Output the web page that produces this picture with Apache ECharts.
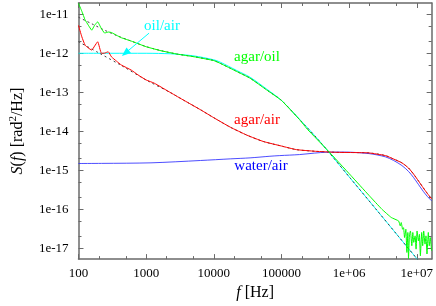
<!DOCTYPE html>
<html><head><meta charset="utf-8">
<script src="https://cdn.jsdelivr.net/npm/echarts@6/dist/echarts.min.js"></script>
<style>html,body{margin:0;padding:0;background:#fff}#c{width:436px;height:306px}</style>
</head><body><div id="c"></div>
<script>
// ---- tick labels ----
const xTickValues = [100, 1e3, 1e4, 1e5, 1e6, 1e7];
const xTickLabels = ['100', '1000', '10000', '100000', '1e+06', '1e+07'];
const xMinorValues = [200, 500, 2e3, 5e3, 2e4, 5e4, 2e5, 5e5, 2e6, 5e6];
const yTickValues = [1e-17, 1e-16, 1e-15, 1e-14, 1e-13, 1e-12, 1e-11];
const yTickLabels = ['1e-17', '1e-16', '1e-15', '1e-14', '1e-13', '1e-12', '1e-11'];
const yMinorValues = [2e-17, 5e-17, 2e-16, 5e-16, 2e-15, 5e-15, 2e-14, 5e-14, 2e-13, 5e-13, 2e-12, 5e-12];
const xRange = [100, 1.66e7];
const yRange = [5.33e-18, 1.94e-11];

// ---- series data: [f (Hz), S (rad^2/Hz)] ----
const agarOil = [[100,1.9e-11],[112,1.19e-11],[125,7.2e-12],[140,5.2e-12],[157,3.9e-12],[173,5.2e-12],[192,6.4e-12],[216,4.4e-12],[243,3.3e-12],[278,3.5e-12],
 [307,3.4e-12],[364,2.9e-12],[430,2.5e-12],[603,2.05e-12],[1000,1.47e-12],[1656,1.16e-12],[2904,9.5e-13],[5094,8.15e-13],[1e4,6.5e-13],[12500,5.5e-13],
 [21960,3.4e-13],[34360,2.3e-13],[60400,1.15e-13],[1e5,6.2e-14],[1.85e5,2.0e-14],[2.45e5,1.1e-14],[4.71e5,3.4e-15],[1.06e6,7.4e-16],[1.96e6,2.3e-16],[3.07e6,1.0e-16],
 [4.2e6,6.2e-17],[5.39e6,5.06e-17],[5.70e6,3.78e-17],[5.90e6,4.6e-17],[6.17e6,3.1e-17],[6.38e6,3.4e-17],[6.6e6,1.9e-17],[6.9e6,3.1e-17],[7.14e6,7.9e-18],[7.38e6,2.56e-17],
 [7.55e6,5.5e-18],[7.8e6,2.3e-17],[8.07e6,2.8e-17],[8.45e6,1.17e-17],[8.74e6,2.56e-17],[9.03e6,1.43e-17],[9.45e6,2.1e-17],[9.77e6,9.6e-18],[1.01e7,2.8e-17],[1.057e7,1.56e-17],
 [1.094e7,2.3e-17],[1.131e7,6.5e-18],[1.183e7,2.56e-17],[1.224e7,1.17e-17],[1.266e7,2.8e-17],[1.324e7,1.29e-17],[1.369e7,2.1e-17],[1.416e7,7.2e-18],[1.481e7,2.56e-17],[1.532e7,1.17e-17],
 [1.585e7,1.9e-17],[1.656e7,8.7e-18]];
const agarAir = [[100,5.2e-12],[112,2.64e-12],[125,1.62e-12],[140,1.36e-12],[157,1.21e-12],[173,1.53e-12],[192,1.97e-12],[219,9.95e-13],[243,1.01e-12],[275,1.09e-12],
 [307,8.1e-13],[364,6.3e-13],[430,5.0e-13],[603,3.7e-13],[756,2.8e-13],[1000,2.07e-13],[1321,1.71e-13],[2317,9.7e-14],[3630,6.2e-14],[6376,3.56e-14],
 [1e4,2.23e-14],[17500,1.28e-14],[30760,8.0e-15],[53800,5.5e-15],[1e5,4.2e-15],[1.66e5,3.4e-15],[3.18e5,3.08e-15],[6.38e5,2.9e-15],[1.18e6,2.86e-15],[1.96e6,2.8e-15],
 [3.44e6,2.39e-15],[4.55e6,1.95e-15],[6.03e6,1.56e-15],[7.55e6,1.15e-15],[8.94e6,8.1e-16],[1.057e7,5.4e-16],[1.25e7,3.55e-16],[1.43e7,2.58e-16],[1.656e7,1.86e-16]];
const waterAir = [[100,1.5e-15],[219,1.51e-15],[1180,1.56e-15],[6376,1.79e-15],[17500,1.97e-15],[34360,2.09e-15],[67500,2.3e-15],[94400,2.39e-15],[1.85e5,2.54e-15],[3.08e5,2.77e-15],
 [4.56e5,2.91e-15],[8.46e5,2.94e-15],[1.96e6,2.69e-15],[3.44e6,2.22e-15],[4.55e6,1.79e-15],[6.03e6,1.33e-15],[7.55e6,9.4e-16],[8.94e6,6.6e-16],[1.057e7,4.37e-16],[1.25e7,2.89e-16],
 [1.43e7,2.16e-16],[1.656e7,1.66e-16]];
const oilAir = [[100,1e-12],[300,1e-12],[1000,1e-12],[2317,9.7e-13],[2904,9.4e-13],[5094,8.55e-13],[1e4,6.8e-13],[12500,5.9e-13],[21960,3.6e-13],[34360,2.43e-13],
 [60400,1.21e-13],[1e5,6.2e-14],[1.85e5,2.04e-14],[3.64e5,5.65e-15],[1.06e6,6.07e-16],[2.6e6,9.3e-17],[5.39e6,2.01e-17],[1e7,5.5e-18],[1.057e7,4.9e-18]];
const fitAgarOil = [[100,8.4e-12],[157,5.7e-12],[243,3.9e-12],[385,2.75e-12],[603,2.05e-12],[1000,1.48e-12],[1656,1.17e-12],[2904,9.5e-13],[5094,8.15e-13],[1e4,6.5e-13],
 [12500,5.5e-13],[21960,3.4e-13],[34360,2.3e-13],[60400,1.15e-13],[1e5,6.2e-14],[1.85e5,2.0e-14],[3.64e5,5.65e-15],[1.06e6,6.07e-16],[2.6e6,9.3e-17],[5.39e6,2.01e-17],[1.057e7,4.9e-18]];
const fitAgarAir = [[100,1.97e-12],[196,1.04e-12],[430,4.87e-13],[1000,2.07e-13],[2317,9.7e-14],[3630,6.2e-14],[6376,3.56e-14],[1e4,2.23e-14],[17500,1.28e-14],[30760,8.0e-15],
 [53800,5.5e-15],[1e5,4.2e-15],[1.66e5,3.4e-15],[3.18e5,3.08e-15],[6.38e5,2.9e-15],[1.18e6,2.86e-15],[1.96e6,2.8e-15],[3.44e6,2.39e-15],[4.55e6,1.95e-15],[6.03e6,1.56e-15],
 [7.55e6,1.15e-15],[8.94e6,8.1e-16],[1.057e7,5.4e-16],[1.25e7,3.55e-16],[1.43e7,2.58e-16],[1.656e7,1.86e-16]];
const oilAirArrow = [[1104, 3.28e-12], [492, 1.01e-12]];

// ---- build chart ----
const L = Math.log10;
const toLog = a => a.map(p => [L(p[0]), L(p[1])]);
const FONT = '"Liberation Serif", "Times New Roman", serif';
const AX = '#6a6a6a';
const xMajor = xTickValues.map(L), xMinor = xMinorValues.map(L);
const yMajor = yTickValues.map(L), yMinor = yMinorValues.map(L);
const nearest = (vals, labels, v) => { let bi = 0; vals.forEach((u, i) => { if (Math.abs(u - v) < Math.abs(vals[bi] - v)) bi = i; }); return labels[bi]; };

function axis(kind, pos, ticks, len, withLabel, withLine) {
  const isX = kind === 'x';
  const a = {
    type: 'value', position: pos,
    min: L(isX ? xRange[0] : yRange[0]), max: L(isX ? xRange[1] : yRange[1]),
    axisLine: { show: withLine, onZero: false, lineStyle: { color: AX, width: 1.5 } },
    axisTick: { show: true, inside: true, length: len, customValues: ticks, lineStyle: { color: AX, width: 1 } },
    axisLabel: { show: false },
    splitLine: { show: false }, minorTick: { show: false }
  };
  if (withLabel) {
    const vals = isX ? xMajor : yMajor, labs = isX ? xTickLabels : yTickLabels;
    a.axisLabel = { show: true, customValues: vals, color: '#000', fontFamily: FONT, fontSize: 13,
      margin: isX ? 8 : 10, formatter: v => nearest(vals, labs, v) };
  }
  return a;
}
const xAxes = [axis('x','bottom',xMajor,5,true,true), axis('x','bottom',xMinor,3,false,false),
               axis('x','top',xMajor,5,false,true), axis('x','top',xMinor,3,false,false)];
const yAxes = [axis('y','left',yMajor,5,true,true), axis('y','left',yMinor,3,false,false),
               axis('y','right',yMajor,5,false,true), axis('y','right',yMinor,3,false,false)];
xAxes[0].name = '{i|f} [Hz]';
xAxes[0].nameLocation = 'middle';
xAxes[0].nameGap = 20;
xAxes[0].nameTextStyle = { color: '#000', fontFamily: FONT, fontSize: 16, rich: { i: { fontStyle: 'italic', fontFamily: FONT, fontSize: 16, color: '#000' } } };
yAxes[0].name = '{i|S}({i|f}) [rad{sup|2}/Hz]';
yAxes[0].nameLocation = 'middle';
yAxes[0].nameRotate = 90;
yAxes[0].nameGap = 50;
yAxes[0].nameTextStyle = { color: '#000', fontFamily: FONT, fontSize: 16, lineHeight: 20,
  rich: { i: { fontStyle: 'italic', fontFamily: FONT, fontSize: 16, lineHeight: 20, color: '#000' },
          sup: { fontFamily: FONT, fontSize: 11, lineHeight: 20, verticalAlign: 'top', color: '#000' } } };

function line(name, data, color, opts) {
  return Object.assign({ name, type: 'line', data: toLog(data), xAxisIndex: 0, yAxisIndex: 0,
    showSymbol: false, symbol: 'none', smooth: false, clip: true, silent: true,
    lineStyle: { color, width: 1 }, emphasis: { disabled: true } }, opts || {});
}
const fitStyle = { color: '#404040', width: 1, type: [2, 3] };
const series = [
  line('oil/air', oilAir, '#00ffff', { smooth: 0.3, markLine: { silent: true, symbol: ['none', 'triangle'], symbolSize: [7, 9],
      label: { show: false }, lineStyle: { color: '#00ffff', width: 1, type: 'solid' },
      data: [[{ coord: [L(oilAirArrow[0][0]), L(oilAirArrow[0][1])] }, { coord: [L(oilAirArrow[1][0]), L(oilAirArrow[1][1])] }]] } }),
  line('fit agar/oil', fitAgarOil, '#404040', { smooth: 0.3, lineStyle: fitStyle }),
  line('fit agar/air', fitAgarAir, '#404040', { smooth: 0.3, lineStyle: fitStyle }),
  line('water/air', waterAir, '#2020ff', { smooth: 0.3, lineStyle: { color: '#2020ff', width: 0.8 } }),
  line('agar/air', agarAir, '#ff0000', { smooth: 0.15 }),
  line('agar/oil', agarOil, '#00ff00', { smooth: 0.1 })
];
const txt = (t, x, y, c) => ({ type: 'text', x, y, silent: true, style: { text: t, fill: c, fontFamily: FONT, fontSize: 15, align: 'center', verticalAlign: 'middle' } });

const chart = echarts.init(document.getElementById('c'), null, { renderer: 'canvas' });
chart.setOption({
  animation: false, backgroundColor: '#fff',
  grid: { left: 77, right: 3, top: 3, bottom: 46, containLabel: false },
  xAxis: xAxes, yAxis: yAxes, series,
  graphic: [txt('oil/air', 162, 26, '#00ffff'), txt('agar/oil', 257, 57, '#00ff00'),
            txt('agar/air', 257, 120, '#ff0000'), txt('water/air', 261, 166, '#0000ff')]
});
</script></body></html>
